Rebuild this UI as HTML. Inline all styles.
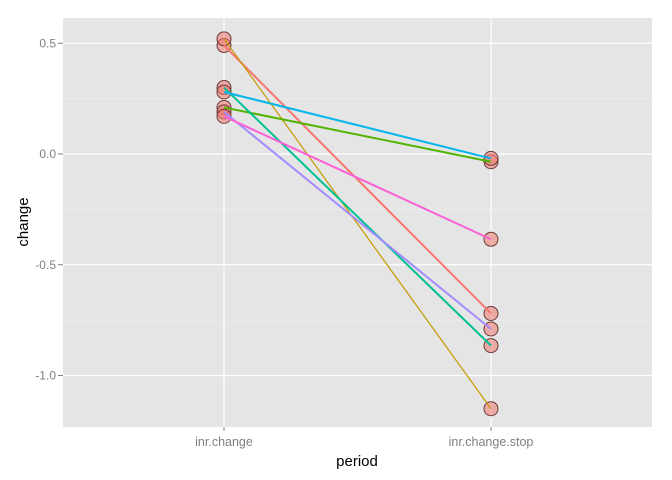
<!DOCTYPE html>
<html><head><meta charset="utf-8"><style>body{margin:0;background:#fff}svg{display:block;font-family:"Liberation Sans",sans-serif}</style></head>
<body>
<svg id="c" width="672" height="480"></svg>
<script>
const categories=["inr.change","inr.change.stop"];
const seriesColors=["#F8766D","#C49A00","#53B400","#00C094","#00B6EB","#A58AFF","#FB61D7"];
const startValues=[0.49,0.52,0.21,0.30,0.28,0.19,0.17];
const endValues=[-0.72,-1.15,-0.035,-0.865,-0.02,-0.79,-0.385];
const yTicks=[0.5,0.0,-0.5,-1.0];
const yTickLabels=["0.5","0.0","-0.5","-1.0"];
const NS="http://www.w3.org/2000/svg";
const svg=document.getElementById("c");
const L=63,R=652,T=18,B=427;
const y=v=>154-v*221.5;
const x=i=>224+i*267;
function el(t,a,p){const e=document.createElementNS(NS,t);for(const k in a)e.setAttribute(k,a[k]);(p||svg).appendChild(e);return e;}
let r=el("rect",{x:L,y:T,width:R-L,height:B-T,fill:"#E5E5E5"});


for(let i=0;i<yTicks.length-1;i++){const m=(yTicks[i]+yTicks[i+1])/2;let g=el("line",{x1:L,x2:R,y1:y(m),y2:y(m),stroke:"#F2F2F2","stroke-width":0.6});

}
yTicks.forEach((v,i)=>{let g=el("line",{x1:L,x2:R,y1:y(v),y2:y(v),stroke:"#fff","stroke-width":1.2});


let tk=el("line",{x1:58,x2:63,y1:y(v),y2:y(v),stroke:"#7F7F7F"});


let t=el("text",{x:56,y:y(v)+4,"text-anchor":"end","font-size":12,fill:"#7F7F7F"});t.textContent=yTickLabels[i];

});
categories.forEach((c,i)=>{let g=el("line",{x1:x(i),x2:x(i),y1:T,y2:B,stroke:"#fff","stroke-width":1.2});


let tk=el("line",{x1:x(i),x2:x(i),y1:B,y2:B+4,stroke:"#7F7F7F"});


let t=el("text",{x:x(i),y:446,"text-anchor":"middle","font-size":12.5,fill:"#7F7F7F"});t.textContent=c;

});
startValues.forEach((s,i)=>{[s,endValues[i]].forEach((v,j)=>{let c=el("circle",{cx:x(j),cy:y(v),r:7,fill:"rgba(240,120,112,0.55)",stroke:"#6b3a38","stroke-width":1});

});});
startValues.forEach((s,i)=>{let l=el("line",{x1:x(0),y1:y(s),x2:x(1),y2:y(endValues[i]),stroke:seriesColors[i],"stroke-width":i==1?1.2:2});

});
let xt=el("text",{x:357,y:466,"text-anchor":"middle","font-size":15,fill:"#000"});xt.textContent="period";


let yt=el("text",{x:0,y:0,"text-anchor":"middle","font-size":15,fill:"#000",transform:"translate(28,222) rotate(-90)"});yt.textContent="change";


</script>
</body></html>
